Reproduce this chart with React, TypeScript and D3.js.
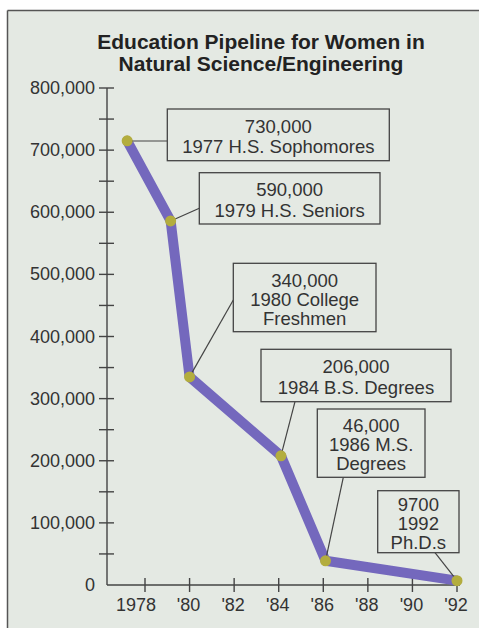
import React from "react";
import * as d3 from "d3";

// ---- data ----
const years = [1977.2, 1979.15, 1980, 1984.1, 1986.1, 1992];
const values = [715000, 586000, 335000, 208000, 39000, 7000];
const labelLines: string[][] = [
  ["730,000", "1977 H.S. Sophomores"],
  ["590,000", "1979 H.S. Seniors"],
  ["340,000", "1980 College", "Freshmen"],
  ["206,000", "1984 B.S. Degrees"],
  ["46,000", "1986 M.S.", "Degrees"],
  ["9700", "1992", "Ph.D.s"],
];
const xTicks = [1978, 1980, 1982, 1984, 1986, 1988, 1990, 1992];
const xTickLabels = ["1978", "'80", "'82", "'84", "'86", "'88", "'90", "'92"];
const yMajor = [0, 100000, 200000, 300000, 400000, 500000, 600000, 700000, 800000];
const yMinor = d3.range(50000, 800001, 50000);
const titleLines = ["Education Pipeline for Women in", "Natural Science/Engineering"];

// ---- layout (annotation boxes: x0,y0,x1,y1 and attach point) ----
const boxes = [
  { x0: 167.3, y0: 109, x1: 389.3, y1: 160.7, ax: 167.3, ay: 141 },
  { x0: 199.3, y0: 172.7, x1: 380, y1: 224, ax: 199.3, ay: 208.3 },
  { x0: 233.3, y0: 263.3, x1: 376, y1: 331.7, ax: 233.3, ay: 300 },
  { x0: 261, y0: 349.3, x1: 451, y1: 401.7, ax: 295, ay: 401.7 },
  { x0: 317.3, y0: 409, x1: 425, y1: 477.3, ax: 343.3, ay: 477.3 },
  { x0: 377.7, y0: 490.7, x1: 459, y1: 552.7, ax: 435, ay: 552.7 },
];

const W = 479;
const H = 628;
const BG = "#e4e9e3";
const INK = "#333333";
const FONT = "'Liberation Sans', Arial, Helvetica, sans-serif";

export default function App() {
  const x = d3.scaleLinear().domain([1978, 1992]).range([145, 457]);
  const y = d3.scaleLinear().domain([0, 800000]).range([585, 88]);
  const pts = years.map((yr, i) => [x(yr), y(values[i])] as [number, number]);
  const line = d3.line<[number, number]>().curve(d3.curveLinear);
  const axisX = 107;
  const axisY = y(0);

  return (
    <svg
      width={W}
      height={H}
      style={{ position: "absolute", left: 0, top: 0, fontFamily: FONT }}
    >
      <rect x={0} y={0} width={W} height={H} fill="#ffffff" />
      <rect x={8} y={11} width={W} height={H} fill={BG} />
      <line x1={7.5} y1={10.5} x2={W} y2={10.5} stroke="#555" strokeWidth={1.5} />
      <line x1={7.5} y1={10.5} x2={7.5} y2={H} stroke="#555" strokeWidth={1.5} />

      {titleLines.map((t, i) => (
        <text
          key={t}
          x={261}
          y={49 + i * 22}
          textAnchor="middle"
          fontSize={21}
          fontWeight="bold"
          fill="#222"
        >
          {t}
        </text>
      ))}

      {/* y axis */}
      <line x1={axisX} y1={y(800000)} x2={axisX} y2={axisY} stroke="#444" strokeWidth={1.4} />
      {yMinor.map((v) => (
        <line key={"m" + v} x1={99} x2={114} y1={y(v)} y2={y(v)} stroke="#444" strokeWidth={1.4} />
      ))}
      {yMajor.map((v) => (
        <text
          key={"yl" + v}
          x={95}
          y={y(v)}
          textAnchor="end"
          dominantBaseline="central"
          fontSize={18}
          fill={INK}
        >
          {d3.format(",")(v)}
        </text>
      ))}

      {/* x axis */}
      <line x1={axisX} y1={axisY} x2={460} y2={axisY} stroke="#444" strokeWidth={1.4} />
      {xTicks.map((t, i) => (
        <g key={"xt" + t}>
          <line x1={x(t)} x2={x(t)} y1={axisY - 7} y2={axisY + 7} stroke="#444" strokeWidth={1.4} />
          <text
            x={i === 0 ? x(t) + 11 : x(t) - 1}
            y={605}
            textAnchor={i === 0 ? "end" : "middle"}
            dominantBaseline="central"
            fontSize={18}
            fill={INK}
          >
            {xTickLabels[i]}
          </text>
        </g>
      ))}

      {/* pipeline line */}
      <path
        d={line(pts) || ""}
        fill="none"
        stroke="#7468bd"
        strokeWidth={10}
        strokeLinejoin="round"
        strokeLinecap="round"
      />

      {/* connectors */}
      {boxes.map((b, i) => (
        <line
          key={"c" + i}
          x1={pts[i][0]}
          y1={i === 0 ? b.ay : pts[i][1]}
          x2={b.ax}
          y2={b.ay}
          stroke="#444"
          strokeWidth={1.2}
        />
      ))}

      {/* points */}
      {pts.map((p, i) => (
        <circle key={"p" + i} cx={p[0]} cy={p[1]} r={5.5} fill="#b3ad3e" />
      ))}

      {/* annotation boxes */}
      {boxes.map((b, i) => {
        const lines = labelLines[i];
        const sp = lines.length === 2 ? 20.5 : 19;
        const cy = (b.y0 + b.y1) / 2 + 1.5;
        const cx = (b.x0 + b.x1) / 2;
        return (
          <g key={"b" + i}>
            <rect
              x={b.x0}
              y={b.y0}
              width={b.x1 - b.x0}
              height={b.y1 - b.y0}
              fill={BG}
              stroke="#444"
              strokeWidth={1.3}
            />
            {lines.map((t, j) => (
              <text
                key={t + j}
                x={cx}
                y={cy + (j - (lines.length - 1) / 2) * sp}
                textAnchor="middle"
                dominantBaseline="central"
                fontSize={18.5}
                fill={INK}
              >
                {t}
              </text>
            ))}
          </g>
        );
      })}
    </svg>
  );
}
